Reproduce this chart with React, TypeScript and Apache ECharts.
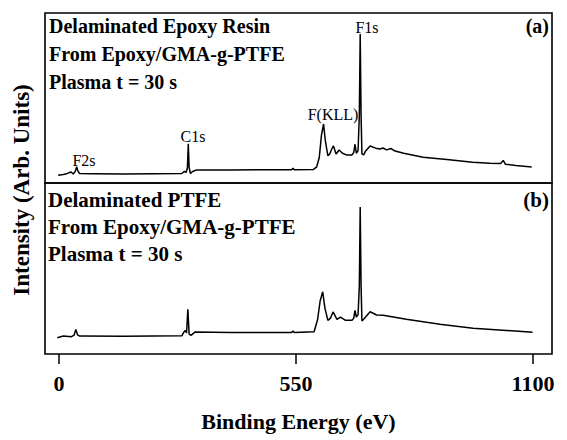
import React, { useEffect, useRef } from "react";
import * as echarts from "echarts";

const xTicks = [0, 550, 1100];

// Panel (a): Delaminated epoxy resin  [binding energy (eV), intensity (arb.)]
const spectrumA: [number, number][] = [
  [-2, 4.5], [10, 5.0], [18, 5.5], [28, 6.5], [33, 5.3], [38, 7.0], [41, 9.6], [44, 7.0], [48, 5.6],
  [80, 5.5], [150, 5.3], [220, 5.5], [285, 5.6], [291, 6.8], [295, 6.2], [298, 9], [300, 23.1], [302, 9],
  [305, 5.6], [310, 6.8], [318, 7.6], [400, 7.6], [480, 7.8], [540, 7.8], [543, 8.6], [546, 7.8],
  [590, 7.9], [598, 9.5], [604, 15], [609, 28], [614, 34.7], [618, 25], [624, 16], [628, 17], [633, 20],
  [637, 21.8], [643, 17.1], [650, 19.4], [658, 17.5], [668, 16.4], [680, 16.5], [684, 18], [687, 22.8],
  [690, 17.5], [694, 19], [697, 40], [699, 87.6], [701, 40], [703, 17.1], [707, 16.5], [712, 19],
  [722, 21.8], [735, 20.5], [745, 20.0], [752, 20.6], [760, 19.5], [770, 20.3], [780, 18.8], [800, 17.5],
  [845, 15.2], [900, 13.8], [960, 12.2], [1000, 11.6], [1025, 11.5], [1031, 13.3], [1036, 11.0],
  [1060, 10.3], [1097, 9.4],
];

// Panel (b): Delaminated PTFE
const spectrumB: [number, number][] = [
  [-4, 9.5], [10, 10.5], [29, 10.1], [35, 11], [39, 14.4], [43, 11.2], [48, 10.5], [150, 10.4],
  [285, 10.6], [289, 12.5], [293, 13.8], [296, 12.3], [299, 26.1], [302, 11.5], [307, 11], [316, 12.9],
  [400, 12.6], [540, 12.6], [543, 13.5], [546, 12.6], [592, 13.0], [600, 20], [606, 31], [612, 36.4],
  [617, 27], [624, 19.7], [630, 21], [636, 24.6], [645, 20.3], [653, 21.6], [665, 19.7], [680, 19.7],
  [684, 21], [687, 25.5], [690, 21.6], [694, 23], [697, 40], [699, 86], [701, 40], [703, 19.3],
  [707, 20.3], [722, 24.7], [737, 22.8], [752, 22.6], [806, 20.3], [884, 17.4], [961, 15.0],
  [1039, 13.8], [1099, 12.7],
];

const panelALines = ["Delaminated Epoxy Resin", "From Epoxy/GMA-g-PTFE", "Plasma t = 30 s"];
const panelBLines = ["Delaminated PTFE", "From Epoxy/GMA-g-PTFE", "Plasma t = 30 s"];
const peakLabels = ["F1s", "F(KLL)", "C1s", "F2s"];

const SERIF = "'Liberation Serif', 'DejaVu Serif', serif";

export default function App() {
  const ref = useRef<HTMLDivElement>(null);
  useEffect(() => {
    if (!ref.current) return;
    const chart = echarts.init(ref.current, null, { renderer: "svg" });
    const xMin = -32.5;
    const xMax = 1144.1;
    const boldText = (text: string, x: number, y: number, size: number, align = "left") => ({
      type: "text",
      x,
      y,
      style: {
        text,
        fill: "#000",
        font: `bold ${size}px ${SERIF}`,
        textAlign: align,
        textVerticalAlign: "middle",
      },
      z: 10,
    });
    const peakText = (text: string, x: number, y: number) => ({
      type: "text",
      x,
      y,
      style: {
        text,
        fill: "#000",
        font: `16px ${SERIF}`,
        textAlign: "center",
        textVerticalAlign: "middle",
      },
      z: 10,
    });
    const option: any = {
      animation: false,
      backgroundColor: "#fff",
      grid: [
        { left: 45, right: 15, top: 13, height: 170, show: true, borderColor: "#000", borderWidth: 1.6, outerBoundsMode: "none", containLabel: false },
        { left: 45, right: 15, top: 183, height: 171, show: true, borderColor: "#000", borderWidth: 1.6, outerBoundsMode: "none", containLabel: false },
      ],
      xAxis: [
        {
          type: "value", gridIndex: 0, min: xMin, max: xMax,
          axisLine: { show: false }, axisTick: { show: false }, axisLabel: { show: false }, splitLine: { show: false },
        },
        {
          type: "value", gridIndex: 1, min: xMin, max: xMax,
          axisLine: { show: false },
          axisTick: { show: true, customValues: xTicks, length: 10, inside: false, lineStyle: { color: "#000", width: 1.5 } },
          axisLabel: {
            show: true, customValues: xTicks, formatter: (v: number) => String(v),
            color: "#000", fontFamily: SERIF, fontWeight: "bold", fontSize: 22, margin: 18,
          },
          splitLine: { show: false },
          name: "Binding Energy (eV)",
          nameLocation: "middle",
          nameGap: 56,
          nameTextStyle: { color: "#000", fontFamily: SERIF, fontWeight: "bold", fontSize: 22 },
        },
      ],
      yAxis: [
        { type: "value", gridIndex: 0, min: 0, max: 100, show: false },
        { type: "value", gridIndex: 1, min: 0, max: 100, show: false },
      ],
      series: [
        { type: "line", xAxisIndex: 0, yAxisIndex: 0, data: spectrumA, showSymbol: false, lineStyle: { color: "#000", width: 1.5 } },
        { type: "line", xAxisIndex: 1, yAxisIndex: 1, data: spectrumB, showSymbol: false, lineStyle: { color: "#000", width: 1.5 } },
      ],
      graphic: [
        {
          type: "text",
          x: 21,
          y: 190,
          rotation: Math.PI / 2,
          style: {
            text: "Intensity (Arb. Units)",
            fill: "#000",
            font: `bold 23px ${SERIF}`,
            textAlign: "center",
            textVerticalAlign: "middle",
          },
        },
        boldText(panelALines[0], 49, 26, 20),
        boldText(panelALines[1], 49, 54, 20),
        boldText(panelALines[2], 49, 82, 20),
        boldText("(a)", 549, 26, 20, "right"),
        boldText(panelBLines[0], 48, 200, 21),
        boldText(panelBLines[1], 48, 227, 21),
        boldText(panelBLines[2], 48, 254, 21),
        boldText("(b)", 549, 200, 21, "right"),
        peakText(peakLabels[0], 367, 27),
        peakText(peakLabels[1], 333, 114),
        peakText(peakLabels[2], 193, 136),
        peakText(peakLabels[3], 84, 160),
      ],
    };
    chart.setOption(option);
    return () => chart.dispose();
  }, []);
  return <div ref={ref} style={{ position: "fixed", left: 0, top: 0, width: 567, height: 440 }} />;
}
